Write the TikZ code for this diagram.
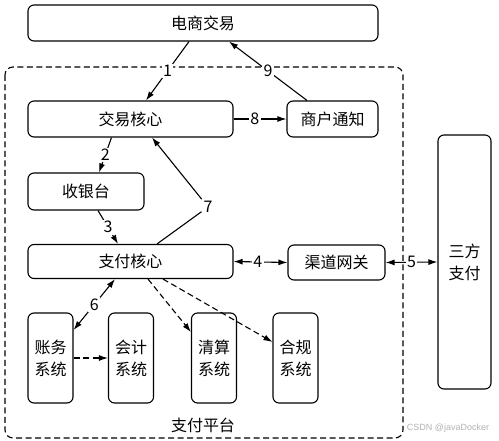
\documentclass[tikz,border=0pt]{standalone}
\usepackage{fontspec}
\newfontfamily\cjk{Noto Sans CJK SC}
\newfontfamily\wmfont{Liberation Sans}
\usetikzlibrary{arrows.meta}

\begin{document}
\begin{tikzpicture}[x=1pt, y=-1pt, line width=1.1pt,
    >={Latex[length=9pt,width=6pt]},
    box/.style={draw, rounded corners=6pt, align=center, inner sep=0pt,
      font=\cjk\fontsize{16}{22}\selectfont},
    sysbox/.style={box, minimum width=45pt, minimum height=90pt},
    num/.style={fill=white, inner sep=1.5pt, font=\cjk\fontsize{16}{19}\selectfont},
    dashline/.style={dash pattern=on 6pt off 3.5pt}]

  \useasboundingbox (0,0) rectangle (499,441);

  % payment platform frame
  \draw[dashline, rounded corners=8pt] (5,67) rectangle (403,438);
  \node[font=\cjk\fontsize{16}{19}\selectfont] (pt) at (203,425) {支付平台};

  \begin{scope}[every node/.style={box}]
    \node[minimum width=350pt, minimum height=36pt] (ec) at (203,23)    {电商交易};
    \node[minimum width=205pt, minimum height=36pt] (jy) at (130.5,119) {交易核心};
    \node[minimum width=91pt,  minimum height=36pt] (sh) at (332.5,119) {商户通知};
    \node[minimum width=116pt, minimum height=37pt] (sy) at (86,191.5)  {收银台};
    \node[minimum width=205pt, minimum height=34pt] (zf) at (130.5,261.5) {支付核心};
    \node[minimum width=97pt,  minimum height=35pt] (qd) at (336.5,262.5) {渠道网关};
    \node[minimum width=53pt,  minimum height=254pt] (sf) at (464.5,262) {三方\\支付};
    \node[sysbox] (zw) at (50.5,358) {账务\\系统};
    \node[sysbox] (kj) at (131,358)  {会计\\系统};
    \node[sysbox] (qs) at (214,358)  {清算\\系统};
    \node[sysbox] (hg) at (295.5,358) {合规\\系统};
  \end{scope}

  % numbered steps
  \draw[->] ([xshift=-14pt]ec.south) -- node[num] {1} ([xshift=15.5pt]jy.north);
  \draw[->] ([xshift=-19pt]jy.south) -- node[num] {2} ([xshift=13pt]sy.north);
  \draw[->] ([xshift=12pt]sy.south) -- node[num] {3} ([xshift=-12.5pt]zf.north);
  \draw[<->] (zf.east) -- node[num, pos=.45] {4} (qd.west);
  \draw[<->] (qd.east) -- node[num] {5} (sf.west);
  \draw[<->] ([yshift=28pt]zw.east) -- node[num] {6} ([xshift=-15.5pt]zf.south);
  \node[num] (n7) at (208,207) {7};
  \draw[->] ([xshift=26.5pt]zf.north) -- (n7) -- ([xshift=21.5pt]jy.south);
  \draw[->] (jy.east) -- node[num, pos=.4] {8} (sh.west);
  \draw[->] ([xshift=-25.5pt]sh.north) -- node[num] {9} ([xshift=26pt]ec.south);

  % downstream systems
  \draw[->, dashline] (zw.east) -- (kj.west);
  \draw[->, dashline] ([xshift=17.5pt]zf.south) -- ([yshift=26pt]qs.west);
  \draw[->, dashline] ([xshift=32.5pt]zf.south) -- ([yshift=16pt]hg.west);

  \node[font=\wmfont\fontsize{9}{10}\selectfont, text=gray!60] (wm) at (448,428) {CSDN @javaDocker};

\end{tikzpicture}
\end{document}
